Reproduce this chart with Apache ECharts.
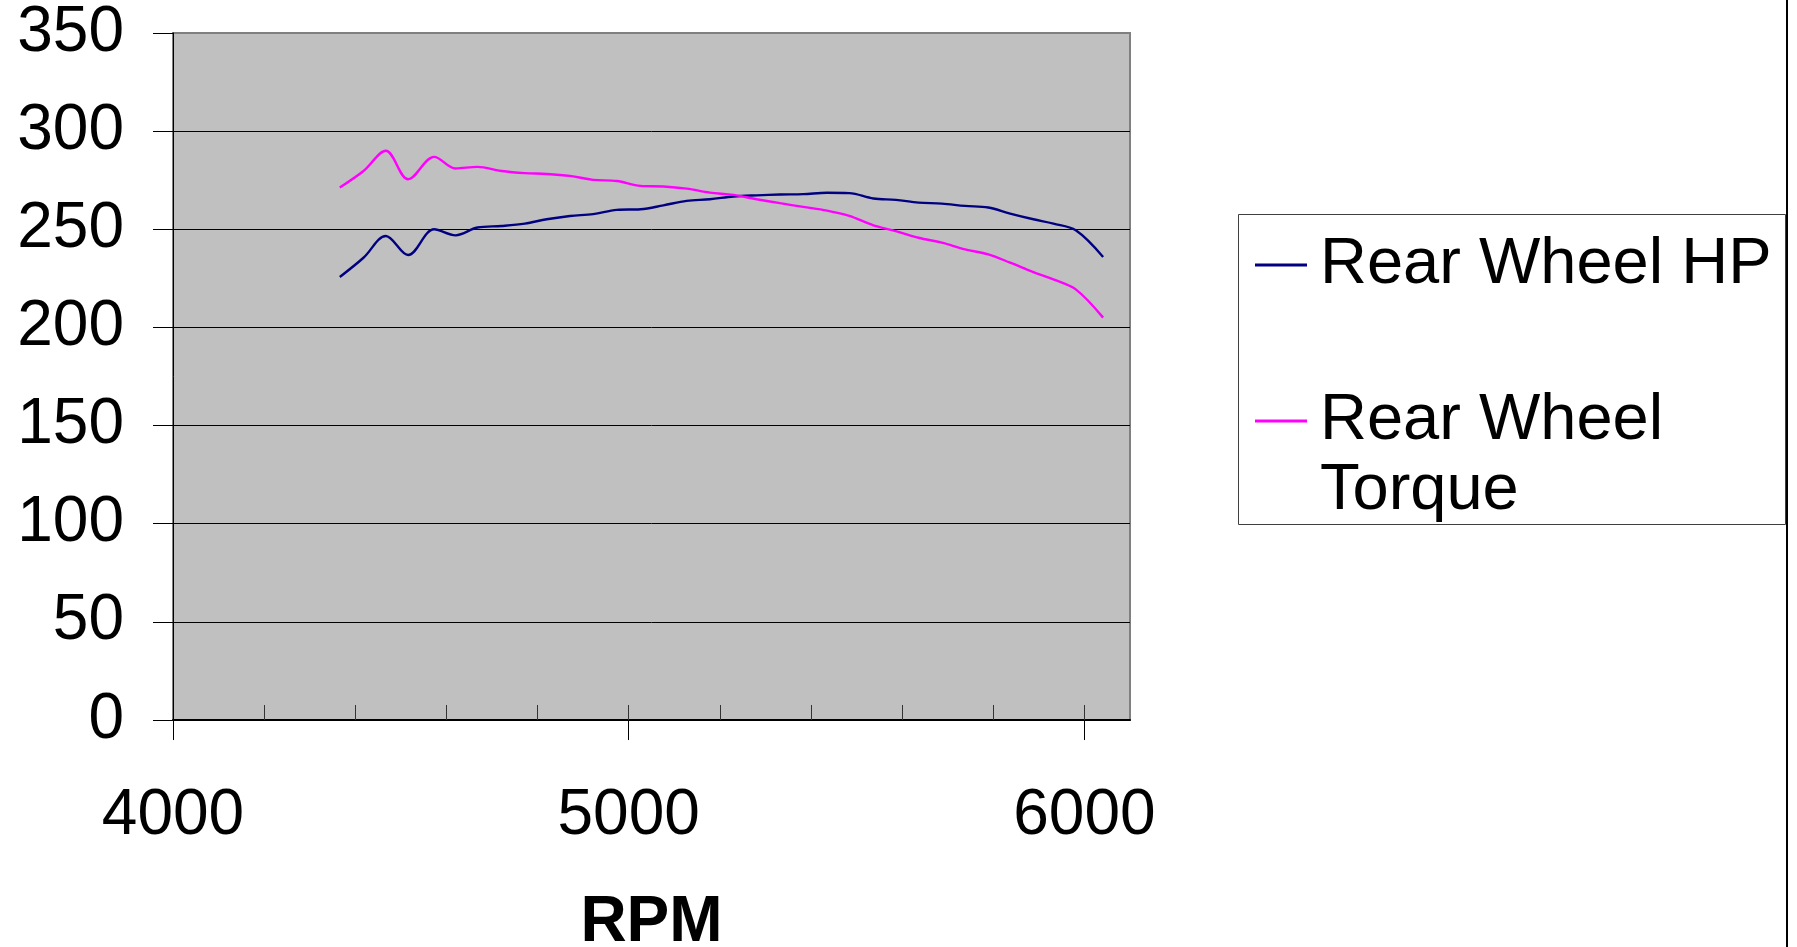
<!DOCTYPE html>
<html>
<head>
<meta charset="utf-8">
<script src="https://cdn.jsdelivr.net/npm/echarts@6/dist/echarts.min.js"></script>
<style>
html,body{margin:0;padding:0;background:#fff;}
#c{width:1797px;height:947px;}
</style>
</head>
<body>
<div id="c"></div>
<script>
// RPM sample points
var rpm = [4366,4418,4467,4516,4573,4620,4668,4721,4772,4820,4871,4922,4974,5026,5076,5127,5178,5230,5281,5332,5383,5435,5484,5537,5586,5636,5687,5738,5789,5837,5888,5932,5981,6041];
// Rear Wheel HP
var hp = [225.7,235.5,246.6,236.9,250,246.9,250.9,251.7,252.9,255.1,256.8,257.7,259.9,260.2,262.2,264.5,265.3,266.7,267.3,267.7,267.9,268.6,268.4,265.7,265,263.6,263.1,261.9,261.1,258,255.1,252.9,249.5,235.9];
// Rear Wheel Torque
var torque = [271.3,279.7,290,275.5,286.9,281,281.8,279.7,278.6,278.2,277.2,275.2,274.6,272.1,271.8,270.7,268.7,267.5,265.3,263.3,261.4,259.5,256.8,252,249.1,245.7,243.2,239.8,237.2,233,228.2,224.5,219.4,205];
// axis ticks
var xMajorTicks = [4000,5000,6000];
var xMinorTicks = [4200,4400,4600,4800,5000,5200,5400,5600,5800,6000];
var seriesNames = ['Rear Wheel HP','Rear Wheel Torque'];
var xName = 'RPM';

var FONT = "'Liberation Sans', Arial, sans-serif";

function pairs(xs, ys){ return xs.map(function(x,i){ return [x, ys[i]]; }); }

var chart = echarts.init(document.getElementById('c'), null, {renderer:'canvas'});
chart.setOption({
  animation:false,
  backgroundColor:'#ffffff',
  grid:{
    left:173, top:33, width:957, height:687,
    containLabel:false, outerBoundsMode:'none',
    show:true, backgroundColor:'#c0c0c0', borderColor:'#808080', borderWidth:2
  },
  xAxis:[{
    type:'value', min:4000, max:6100, position:'bottom',
    name:xName, nameLocation:'middle', nameGap:171,
    nameTextStyle:{fontFamily:FONT, fontSize:64, fontWeight:'bold', color:'#000'},
    axisLine:{show:true, lineStyle:{color:'#000', width:2}},
    axisTick:{show:true, inside:false, length:20, customValues:xMajorTicks, lineStyle:{color:'#000', width:1}},
    axisLabel:{show:true, customValues:xMajorTicks, margin:64, fontFamily:FONT, fontSize:64, color:'#000',
      formatter:function(v){ return String(v); }},
    splitLine:{show:false}
  },{
    type:'value', min:4000, max:6100, position:'bottom',
    axisLine:{show:false},
    axisTick:{show:true, inside:true, length:15, customValues:xMinorTicks, lineStyle:{color:'#333', width:1}},
    axisLabel:{show:false},
    splitLine:{show:false}
  }],
  yAxis:{
    type:'value', min:0, max:350, interval:50,
    axisLine:{show:true, lineStyle:{color:'#000', width:1}},
    axisTick:{show:true, inside:false, length:20, lineStyle:{color:'#000', width:1}},
    axisLabel:{margin:49, fontFamily:FONT, fontSize:64, color:'#000', padding:[6,0,0,0]},
    splitLine:{show:true, lineStyle:{color:['#000','#000','#000','#000','#000','#000','#000','#808080'], width:1}}
  },
  legend:{
    orient:'vertical', left:1238, top:214,
    padding:[16,0,0,17], itemGap:16,
    icon:'rect', itemWidth:52, itemHeight:3,
    data:seriesNames,
    formatter:function(n){ return n === 'Rear Wheel Torque' ? '\nRear Wheel\nTorque' : n; },
    textStyle:{fontFamily:FONT, fontSize:65, lineHeight:70, color:'#000', padding:[0,0,0,8]}
  },
  graphic:[
    {type:'rect', shape:{x:1238.5, y:214.5, width:547, height:310}, style:{fill:'none', stroke:'#404040', lineWidth:1}, silent:true, z:-1},
    {type:'line', shape:{x1:1787, y1:0, x2:1787, y2:947}, style:{stroke:'#000', lineWidth:2}, silent:true}
  ],
  series:[{
    name:seriesNames[0], type:'line', xAxisIndex:0, data:pairs(rpm, hp),
    smooth:0.35, symbol:'none', lineStyle:{color:'#000080', width:2.4}, itemStyle:{color:'#000080'}
  },{
    name:seriesNames[1], type:'line', xAxisIndex:0, data:pairs(rpm, torque),
    smooth:0.35, symbol:'none', lineStyle:{color:'#ff00ff', width:2.4}, itemStyle:{color:'#ff00ff'}
  }]
});
</script>
</body>
</html>
